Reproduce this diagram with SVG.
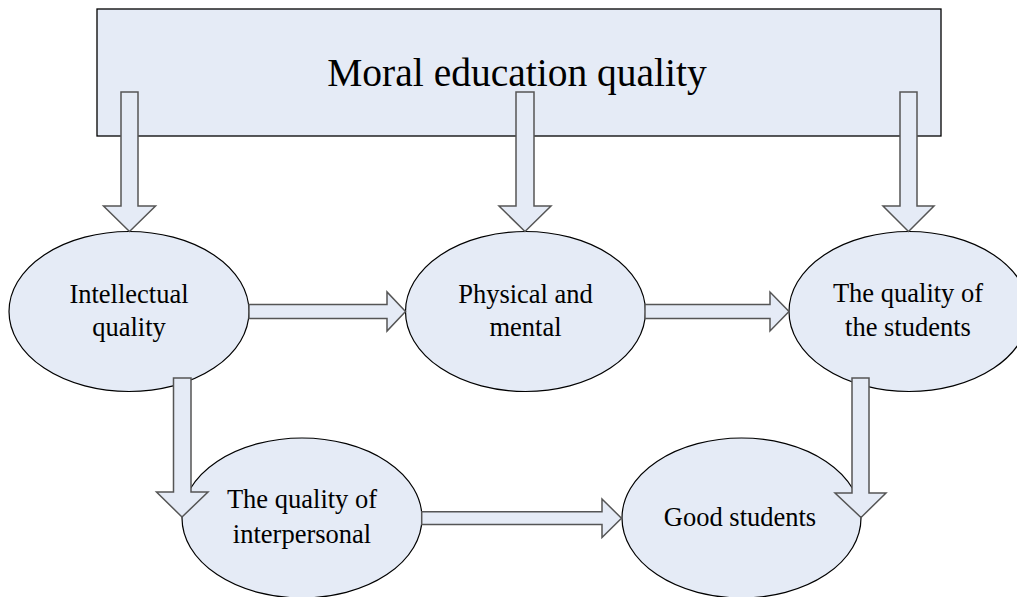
<svg xmlns="http://www.w3.org/2000/svg" width="1017" height="597" viewBox="0 0 1017 597">
<style>
.box{fill:#E5EBF6;stroke:#000;stroke-width:1.3}
.node{fill:#E5EBF6;stroke:#000;stroke-width:1.2}
.arr{fill:#E5EBF6;stroke:#555;stroke-width:1.5;stroke-linejoin:miter}
text{font-family:"Liberation Serif","Times New Roman",serif;fill:#000;text-anchor:middle}
.t{font-size:26.5px}
.title{font-size:39.5px}
</style>
<rect width="1017" height="597" fill="#fff"/>
<g id="moral">
<rect class="box" x="97" y="9" width="844" height="127"/>
<text class="title" x="517" y="86">Moral education quality</text>
</g>
<g id="intellectual">
<ellipse class="node" cx="129" cy="311.5" rx="120" ry="80"/>
<text class="t" x="129" y="302.5">Intellectual</text>
<text class="t" x="129" y="335.5">quality</text>
</g>
<g id="physical">
<ellipse class="node" cx="525.5" cy="311.5" rx="120" ry="80"/>
<text class="t" x="525.5" y="302.5">Physical and</text>
<text class="t" x="525.5" y="335.5">mental</text>
</g>
<g id="students">
<ellipse class="node" cx="909" cy="311.5" rx="120" ry="80"/>
<text class="t" x="908" y="302">The quality of</text>
<text class="t" x="908" y="336">the students</text>
</g>
<g id="interpersonal">
<ellipse class="node" cx="302" cy="518" rx="120" ry="80"/>
<text class="t" x="302" y="508">The quality of</text>
<text class="t" x="302" y="542.5">interpersonal</text>
</g>
<g id="good">
<ellipse class="node" cx="741.5" cy="518" rx="119.5" ry="80"/>
<text class="t" x="740" y="525.5">Good students</text>
</g>
<g id="connectors">
<polygon class="arr" points="121,92 138,92 138,206 155.5,206 129.5,231.5 103.5,206 121,206"/>
<polygon class="arr" points="516,92 534,92 534,206 551,206 525,231.5 499,206 516,206"/>
<polygon class="arr" points="900,92 917,92 917,206 934,206 908.5,231.5 883,206 900,206"/>
<polygon class="arr" points="173.5,378 191,378 191,492 208,492 182,517 156.5,492 173.5,492"/>
<polygon class="arr" points="852,378 869,378 869,493 886,493 861,517.5 835,493 852,493"/>
<polygon class="arr" points="249,304.5 387,304.5 387,292 405.5,311.5 387,331 387,318.5 249,318.5"/>
<polygon class="arr" points="645,304.5 770,304.5 770,292 789,311.5 770,331 770,318.5 645,318.5"/>
<polygon class="arr" points="421.7,511.7 602,511.7 602,499 621.5,518.3 602,537.5 602,524.5 421.7,524.5"/>
</g>
</svg>
